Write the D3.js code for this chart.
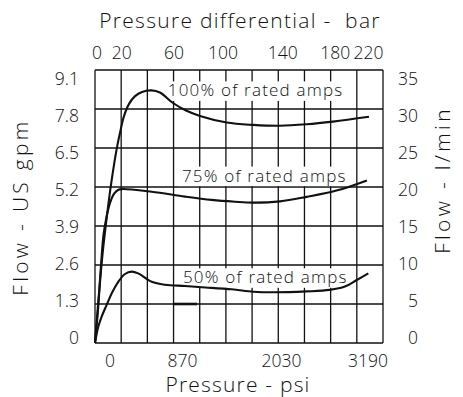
<!DOCTYPE html>
<html><head><meta charset="utf-8">
<script src="https://cdn.jsdelivr.net/npm/d3@7"></script>
<style>
html,body{margin:0;padding:0;background:#fff;}
svg{display:block;font-family:"Open Sans",sans-serif;font-weight:300;}
</style></head>
<body>
<svg id="c" width="463" height="397"></svg>
<script>
// ---- data ----
const barTicks = [0, 20, 60, 100, 140, 180, 220];
const barGrid = [0, 20, 40, 60, 80, 100, 120, 140, 160, 180, 200, 220];
const psiTicks = [0, 870, 2030, 3190];
const gpmTicks = [0, 1.3, 2.6, 3.9, 5.2, 6.5, 7.8, 9.1];
const lminTicks = [0, 5, 10, 15, 20, 25, 30, 35];
const seriesNames = ["100% of rated amps", "75% of rated amps", "50% of rated amps"];

const bar100 = [0, 2.3, 4.6, 6.5, 9.2, 12.2, 16.4, 19.9, 22.2, 26.0, 30.6, 35.9, 43.1, 49.6, 59.6, 69.5, 80.2, 100.6, 120.7, 141.3, 161.6, 181.8, 209.3];
const gpm100 = [0, 1.27, 2.43, 3.27, 4.27, 5.27, 6.43, 7.17, 7.57, 7.97, 8.23, 8.37, 8.42, 8.35, 8.0, 7.75, 7.57, 7.35, 7.27, 7.24, 7.29, 7.38, 7.54];

const bar75 = [0, 2.3, 4.6, 6.5, 8.8, 11.5, 14.5, 17.6, 20.4, 43.3, 68.7, 89.1, 106.9, 120.7, 141.3, 161.6, 184.5, 207.7];
const gpm75 = [0, 1.1, 2.6, 3.6, 4.2, 4.67, 4.97, 5.1, 5.13, 5.04, 4.88, 4.77, 4.71, 4.68, 4.72, 4.87, 5.08, 5.42];

const bar50 = [0, 2.5, 5.1, 8.9, 12.8, 17.8, 22.9, 28.0, 33.0, 43.3, 53.5, 68.8, 81.5, 104.4, 120.9, 136.2, 161.6, 179.4, 190.9, 199.9, 208.8];
const gpm50 = [0, 0.54, 0.88, 1.27, 1.66, 2.04, 2.3, 2.38, 2.32, 2.04, 1.94, 1.9, 1.86, 1.79, 1.71, 1.69, 1.72, 1.77, 1.88, 2.1, 2.32];

// stray short heavy stroke on the 1.3 gpm grid line in the original
const strayBar = [60, 78];
const strayGpm = [1.3, 1.3];

// label anchors (data coords: bar at text start, gpm at baseline)
const labelBar = [55.6, 66.4, 67.2];
const labelGpm = [8.22, 5.38, 1.99];

// ---- layout ----
const svg = d3.select("#c");
const L = 95, R = 383, T = 70, B = 343;
const x = d3.scaleLinear().domain([0, 220]).range([L, R]);
const y = d3.scaleLinear().domain([0, 9.1]).range([B, T]);
// tick label placement scales (labels in the original sit slightly inside the grid)
const yLab = d3.scaleLinear().domain([0, 9.1]).range([337, 78.5]);
const yLabR = d3.scaleLinear().domain([0, 35]).range([337, 78.5]);
const psiLab = d3.scaleLinear().domain([0, 870, 2030, 3190]).range([109.5, 182, 281, 367.5]);

const ink = "#111", txt = "#111";
const FF = "Open Sans";

// grid
const g = svg.append("g");
g.selectAll("line.v").data(barGrid).join("line")
  .attr("x1", d => x(d)).attr("x2", d => x(d)).attr("y1", T).attr("y2", B)
  .attr("stroke", ink).attr("stroke-width", 1.3);
g.selectAll("line.h").data(gpmTicks).join("line")
  .attr("x1", L).attr("x2", R).attr("y1", d => y(d)).attr("y2", d => y(d))
  .attr("stroke", ink).attr("stroke-width", 1.3);

// stray mark
svg.append("path")
  .attr("d", d3.line()(strayBar.map((b, i) => [x(b), y(strayGpm[i])])))
  .attr("stroke", ink).attr("stroke-width", 2.6).attr("fill", "none");

// label boxes (below curves), texts (above)
const boxG = svg.append("g");
const curveG = svg.append("g");
const labG = svg.append("g");
seriesNames.forEach((s, i) => {
  const bx = x(labelBar[i]), by = y(labelGpm[i]);
  const t = labG.append("text")
    .attr("x", bx).attr("y", by)
    .attr("font-size", 17).attr("letter-spacing", 1.2)
    .attr("fill", txt).text(s);
  const bb = t.node().getBBox();
  boxG.append("rect")
    .attr("x", bb.x - 4).attr("y", by - 15)
    .attr("width", bb.width + 6).attr("height", 19.5)
    .attr("fill", "#fff");
});

// curves
const line = d3.line().curve(d3.curveCatmullRom.alpha(0.5));
[[bar100, gpm100], [bar75, gpm75], [bar50, gpm50]].forEach(([bx, gy]) => {
  curveG.append("path")
    .attr("d", line(bx.map((b, i) => [x(b), y(gy[i])])))
    .attr("fill", "none").attr("stroke", ink).attr("stroke-width", 2.1)
    .attr("stroke-linejoin", "round");
});

// axes (labels only)
const fs = 17.5;
function styleTicks(sel) {
  sel.select(".domain").remove();
  sel.selectAll("text").attr("font-size", fs).attr("font-family", FF).attr("font-weight", 300).attr("fill", txt);
}
const topAxis = d3.axisTop(x).tickValues(barTicks).tickSize(0).tickPadding(0);
svg.append("g").attr("transform", "translate(0,59)").call(topAxis).call(styleTicks)
  .selectAll("text").attr("dy", 0)
  .attr("text-anchor", d => d === 220 ? "end" : "middle")
  .attr("dx", d => d === 0 ? 1.5 : (d === 140 ? 4 : (d === 180 ? 4 : (d === 100 ? -3.5 : 0))));

const botAxis = d3.axisBottom(psiLab).tickValues(psiTicks).tickSize(0).tickPadding(0).tickFormat(d3.format("d"));
svg.append("g").attr("transform", "translate(0,366.5)").call(botAxis).call(styleTicks)
  .selectAll("text").attr("dy", 0);

const leftAxis = d3.axisLeft(yLab).tickValues(gpmTicks).tickSize(0).tickPadding(0).tickFormat(d3.format(""));
svg.append("g").attr("transform", "translate(79,0)").call(leftAxis).call(styleTicks)
  .selectAll("text").attr("dy", "0.36em");

const rightAxis = d3.axisRight(yLabR).tickValues(lminTicks).tickSize(0).tickPadding(0);
svg.append("g").attr("transform", "translate(418,0)").call(rightAxis).call(styleTicks)
  .selectAll("text").attr("text-anchor", "end").attr("dy", "0.36em");

// titles
svg.append("text").attr("x", 240).attr("y", 27.5).attr("text-anchor", "middle")
  .attr("font-size", 21).attr("letter-spacing", 1.3).attr("fill", txt)
  .style("white-space", "pre").text("Pressure differential -  bar");
svg.append("text").attr("x", 238).attr("y", 391.5).attr("text-anchor", "middle")
  .attr("font-size", 21).attr("letter-spacing", 1.2).attr("fill", txt)
  .text("Pressure - psi");
svg.append("text").attr("transform", "translate(28,207) rotate(-90)").attr("text-anchor", "middle")
  .attr("font-size", 21).attr("letter-spacing", 3.3).attr("fill", txt)
  .text("Flow - US gpm");
svg.append("text").attr("transform", "translate(450,180) rotate(-90)").attr("text-anchor", "middle")
  .attr("font-size", 21).attr("letter-spacing", 3.3).attr("fill", txt)
  .text("Flow - l/min");
</script>
</body></html>
